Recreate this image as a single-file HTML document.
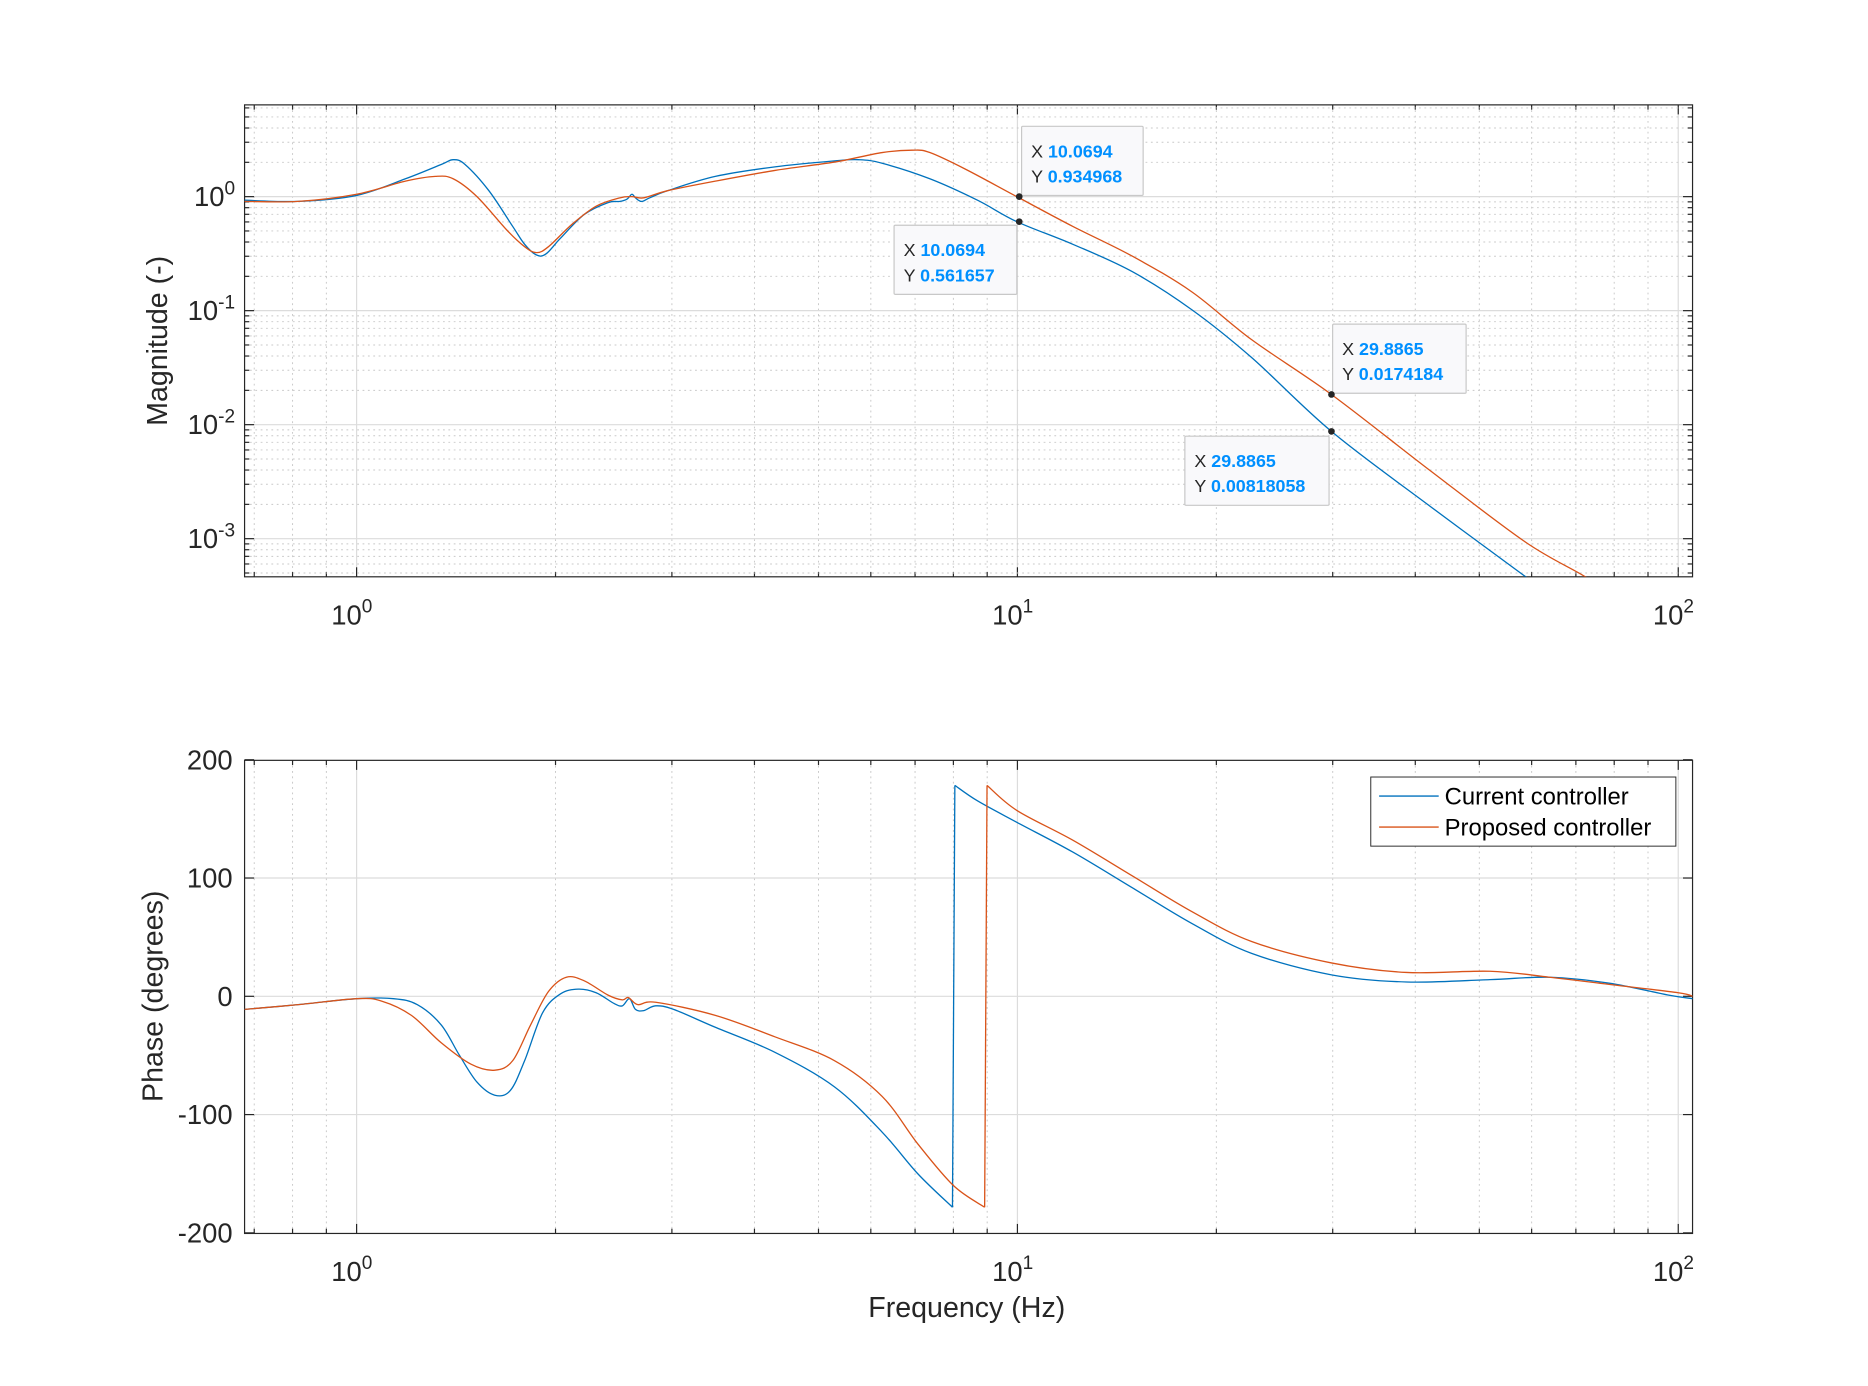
<!DOCTYPE html>
<html><head><meta charset="utf-8"><style>html,body{margin:0;padding:0;background:#fff}svg{display:block}</style></head>
<body>
<svg id="s" width="1868" height="1386" viewBox="0 0 1567 1163" xmlns="http://www.w3.org/2000/svg" font-family="Liberation Sans, Arial, sans-serif"></svg>
<script>
const S=document.getElementById('s');let h='';
const X0=299,DX=554.5,L=205,R=1420;
const fx=f=>X0+Math.log10(f)*DX;
const T1=88,B1=484,Y0=165,DY=95.67;
const fy=v=>Y0-Math.log10(v)*DY;
function grid(top,bot){
  for(let d=-1;d<=2;d++)for(let k=1;k<10;k++){const f=k*Math.pow(10,d);const x=fx(f);if(x<L||x>R)continue;
    if(k==1){h+=`<line x1="${x}" y1="${top}" x2="${x}" y2="${bot}" stroke="#dcdcdc" stroke-width="1"/>`;}
    else h+=`<line x1="${x}" y1="${top}" x2="${x}" y2="${bot}" stroke="#c8c8c8" stroke-width="0.8" stroke-dasharray="1.5,3"/>`;
    const tl=k==1?8:4;
    h+=`<line x1="${x}" y1="${bot}" x2="${x}" y2="${bot-tl}" stroke="#262626"/><line x1="${x}" y1="${top}" x2="${x}" y2="${top+tl}" stroke="#262626"/>`;
  }
}
grid(T1,B1);
for(let d=-4;d<=1;d++)for(let k=1;k<10;k++){const v=k*Math.pow(10,d);const y=fy(v);if(y<T1||y>B1)continue;
  if(k==1)h+=`<line x1="${L}" y1="${y}" x2="${R}" y2="${y}" stroke="#dcdcdc"/>`;
  else h+=`<line x1="${L}" y1="${y}" x2="${R}" y2="${y}" stroke="#c8c8c8" stroke-width="0.8" stroke-dasharray="1.5,3"/>`;
  const tl=k==1?8:4;
  h+=`<line x1="${L}" y1="${y}" x2="${L+tl}" y2="${y}" stroke="#262626"/><line x1="${R}" y1="${y}" x2="${R-tl}" y2="${y}" stroke="#262626"/>`;
  if(k==1)h+=`<text x="${L-8}" y="${y+8}" font-size="23" text-anchor="end" fill="#262626">10<tspan font-size="16" dy="-10">${d}</tspan></text>`;
}
h+=`<rect x="${L}" y="${T1}" width="${R-L}" height="${B1-T1}" fill="none" stroke="#262626" stroke-width="1"/>`;
[[0,X0],[1,X0+DX],[2,X0+2*DX]].forEach(([d,x])=>{h+=`<text x="${x-4}" y="${B1+40}" font-size="23" text-anchor="middle" fill="#262626">10<tspan font-size="16" dy="-10">${d}</tspan></text>`;
 h+=`<text x="${x-4}" y="${1035+40}" font-size="23" text-anchor="middle" fill="#262626">10<tspan font-size="16" dy="-10">${d}</tspan></text>`;});
h+=`<text transform="translate(140,286) rotate(-90)" font-size="24" text-anchor="middle" fill="#262626">Magnitude (-)</text>`;
const T2=638,B2=1035;
grid(T2,B2);
[200,100,0,-100,-200].forEach(v=>{const y=836-v*0.9925;
  if(v!=200&&v!=-200)h+=`<line x1="${L}" y1="${y}" x2="${R}" y2="${y}" stroke="#dcdcdc"/>`;
  h+=`<line x1="${L}" y1="${y}" x2="${L+8}" y2="${y}" stroke="#262626"/><line x1="${R}" y1="${y}" x2="${R-8}" y2="${y}" stroke="#262626"/>`;
  h+=`<text x="${L-10}" y="${y+8}" font-size="23" text-anchor="end" fill="#262626">${v}</text>`;});
h+=`<rect x="${L}" y="${T2}" width="${R-L}" height="${B2-T2}" fill="none" stroke="#262626"/>`;
h+=`<text transform="translate(136,836) rotate(-90)" font-size="24" text-anchor="middle" fill="#262626">Phase (degrees)</text>`;
h+=`<text x="811" y="1105" font-size="24" text-anchor="middle" fill="#262626">Frequency (Hz)</text>`;
function path(p,c){let d='M'+p.map(q=>q.join(',')).join(' L');return `<path d="${d}" fill="none" stroke="${c}" stroke-width="1.1"/>`;}
function smooth(p,c){let d=`M${p[0][0]},${p[0][1]}`;for(let i=0;i<p.length-1;i++){const p0=p[Math.max(0,i-1)],p1=p[i],p2=p[i+1],p3=p[Math.min(p.length-1,i+2)];
 d+=` C${p1[0]+(p2[0]-p0[0])/6},${p1[1]+(p2[1]-p0[1])/6} ${p2[0]-(p3[0]-p1[0])/6},${p2[1]-(p3[1]-p1[1])/6} ${p2[0]},${p2[1]}`;}
 return `<path d="${d}" fill="none" stroke="${c}" stroke-width="1.1"/>`;}
const B='#0072BD',O='#D95319';
h+=`<clipPath id="c1"><rect x="${L}" y="${T1}" width="${R-L}" height="${B1-T1}"/></clipPath><clipPath id="c2"><rect x="${L}" y="${T2}" width="${R-L}" height="${B2-T2}"/></clipPath>`;
h+='<g clip-path="url(#c1)">';
h+=smooth([[205,168],[250,169],[299,164],[340,150],[370,138],[380,134],[390,138],[410,160],[430,190],[440,205],[450,214],[458,213],[470,200],[490,180],[510,170],[520,169],[526,167],[530,163],[533,166],[538,169],[545,166],[560,160],[600,148],[650,140],[700,135],[720,134],[740,137],[780,150],[820,168],[853,186],[900,205],[950,228],[1000,260],[1050,300],[1117,362],[1200,425],[1280,484],[1300,500]],B);
h+=smooth([[205,169],[250,169],[299,163],[340,152],[365,148],[380,150],[400,165],[425,193],[440,207],[450,212],[460,207],[480,188],[500,173],[520,166],[530,165],[540,166],[560,160],[600,152],[650,143],[700,136],[740,128],[765,126],[780,128],[810,142],[853,165],[900,190],[950,215],[1000,245],[1050,285],[1117,331],[1200,395],[1280,455],[1330,484],[1350,500]],O);
h+='</g><g clip-path="url(#c2)">';
h+=smooth([[205,847],[250,843],[299,838],[330,838],[350,843],[370,860],[385,885],[400,908],[415,919],[428,915],[440,890],[455,850],[470,834],[485,830],[500,833],[515,842],[522,844],[528,838],[533,847],[540,848],[550,844],[565,847],[600,862],[650,883],[700,912],[740,950],[770,985],[799,1013]],B);
h+=path([[799,1013],[801,659]],B);
h+=smooth([[801,659],[820,672],[853,690],[900,715],[950,745],[1000,775],[1050,800],[1117,818],[1180,824],[1250,822],[1300,820],[1350,825],[1400,835],[1420,838]],B);
h+=smooth([[205,847],[250,843],[299,838],[320,840],[345,852],[370,875],[395,893],[415,898],[430,890],[445,860],[460,832],[475,820],[490,823],[510,835],[522,839],[527,837],[535,843],[550,841],[600,852],[650,870],[700,890],[740,920],[770,960],[800,995],[826,1013]],O);
h+=path([[826,1013],[828,659]],O);
h+=smooth([[828,659],[853,680],[900,705],[950,735],[1000,765],[1050,790],[1117,808],[1180,816],[1250,815],[1300,820],[1350,826],[1408,833],[1420,836]],O);
h+='</g>';
h+=`<rect x="1150" y="652" width="256" height="58" fill="#fff" stroke="#262626" stroke-width="0.8"/>`;
h+=`<line x1="1157" y1="668" x2="1207" y2="668" stroke="${B}" stroke-width="1.1"/><line x1="1157" y1="694" x2="1207" y2="694" stroke="${O}" stroke-width="1.1"/>`;
h+=`<text x="1212" y="675" font-size="20" fill="#000">Current controller</text><text x="1212" y="701" font-size="20" fill="#000">Proposed controller</text>`;
function tip(x,y,w,px,py,a,b){h+=`<rect x="${x}" y="${y}" width="${w}" height="58" fill="#f9f9fb" stroke="#c8c8c8" stroke-width="1" rx="1"/>`;
 h+=`<text x="${x+8}" y="${y+26}" font-size="15" fill="#262626">X <tspan fill="#0090ff" font-weight="bold">${a}</tspan></text>`;
 h+=`<text x="${x+8}" y="${y+47}" font-size="15" fill="#262626">Y <tspan fill="#0090ff" font-weight="bold">${b}</tspan></text>`;
 h+=`<circle cx="${px}" cy="${py}" r="2.8" fill="#262626"/>`;}
tip(857,106,102,855,165,'10.0694','0.934968');
tip(750,189,103,855,186,'10.0694','0.561657');
tip(1118,272,112,1117,331,'29.8865','0.0174184');
tip(994,366,121,1117,362,'29.8865','0.00818058');
S.innerHTML=h;
</script>
</body></html>
